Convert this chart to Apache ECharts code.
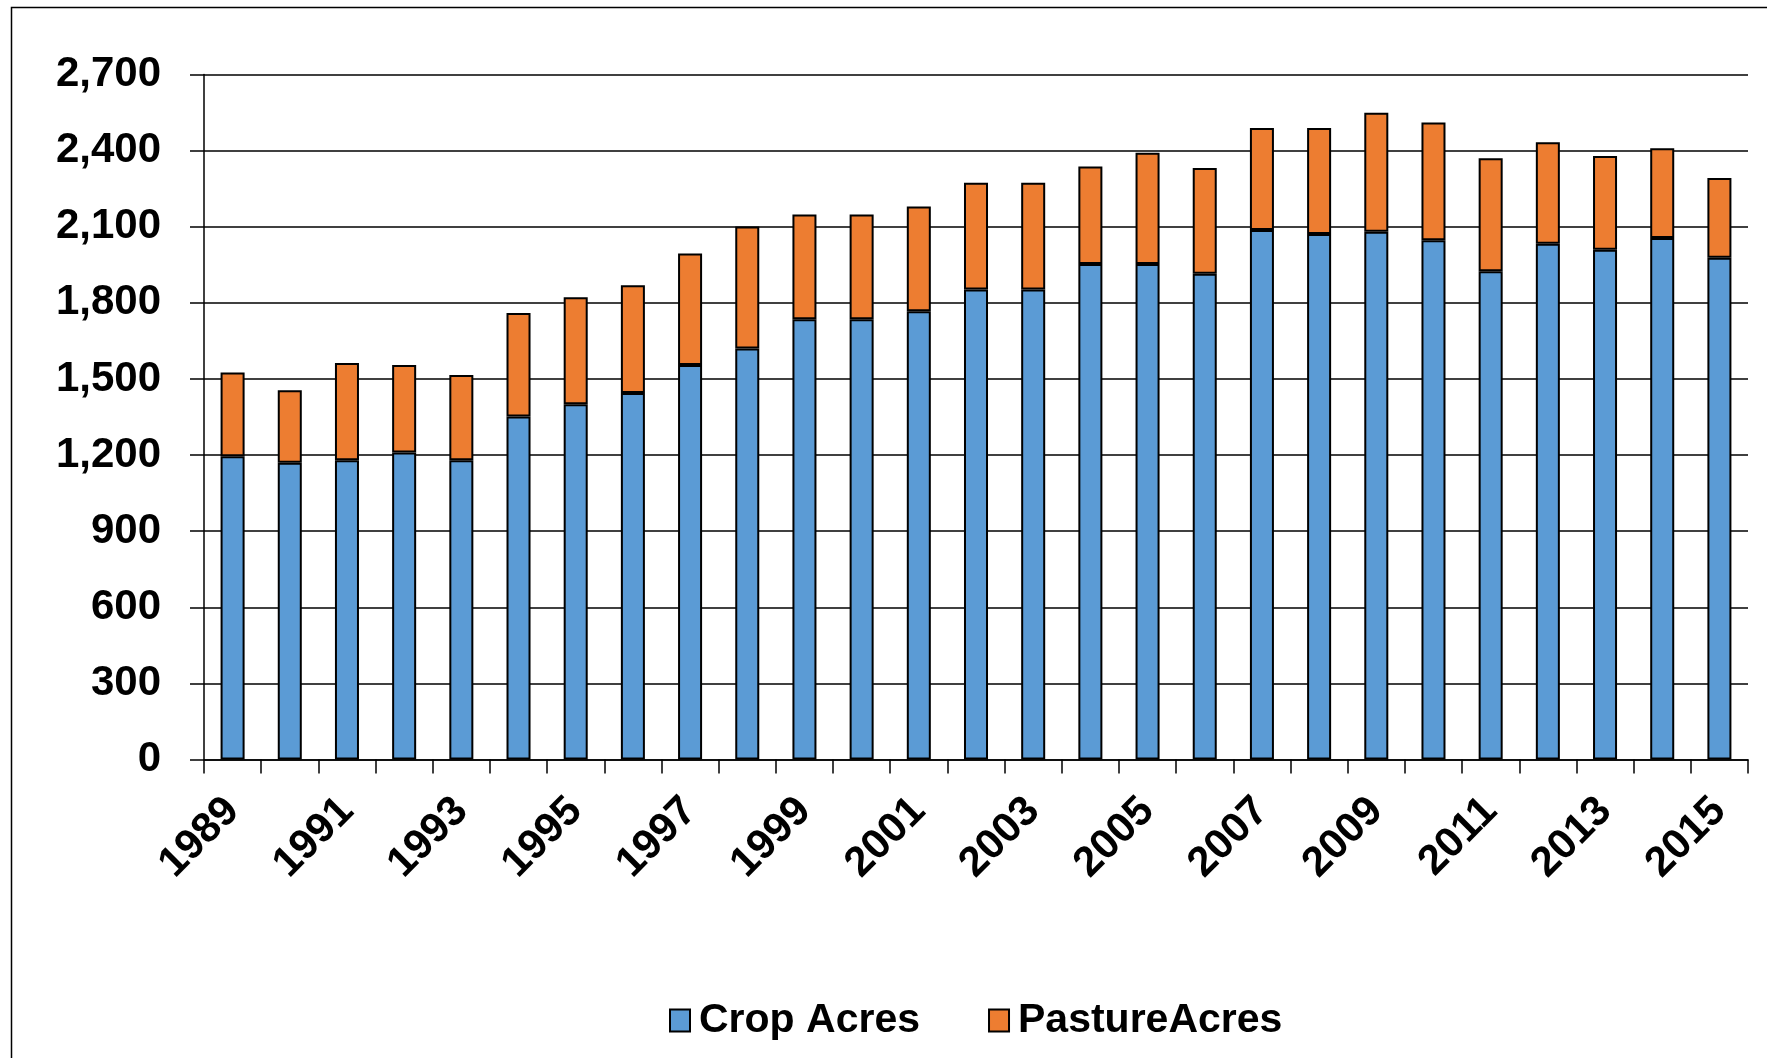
<!DOCTYPE html>
<html>
<head>
<meta charset="utf-8">
<script src="https://cdn.jsdelivr.net/npm/echarts@6/dist/echarts.min.js"></script>
<style>
html,body{margin:0;padding:0;background:#fff;}
#chart{width:1767px;height:1058px;}
</style>
</head>
<body>
<div id="chart"></div>
<script>
const years = ['1989','1990','1991','1992','1993','1994','1995','1996','1997','1998','1999','2000','2001','2002','2003','2004','2005','2006','2007','2008','2009','2010','2011','2012','2013','2014','2015'];
const cropAcres = [1195,1170,1180,1210,1180,1352,1400,1445,1555,1620,1735,1735,1767,1853,1853,1953,1953,1915,2087,2071,2080,2047,1924,2033,2009,2056,1978];
const pastureAcres = [330,285,383,345,336,408,422,424,439,481,413,413,413,420,420,384,439,416,402,418,469,464,446,400,370,353,314];
const yTicks = {min: 0, max: 2700, interval: 300};

const FONT = '"Liberation Sans", Arial, sans-serif';
const chart = echarts.init(document.getElementById('chart'), null, {renderer: 'canvas'});
chart.setOption({
  animation: false,
  backgroundColor: '#ffffff',
  graphic: [{
    type: 'rect', left: 9, top: 5, silent: true,
    shape: {width: 1800, height: 1100},
    style: {fill: 'none', stroke: '#000', lineWidth: 1.5}
  }],
  grid: {left: 204, right: 19, top: 74.5, bottom: 298.5, containLabel: false},
  legend: {
    bottom: 12, left: 664,
    icon: 'rect',
    itemWidth: 20, itemHeight: 22, itemGap: 68,
    textStyle: {fontFamily: FONT, fontWeight: 'bold', fontSize: 41, color: '#000', padding: [0, 0, 0, 4]},
    data: ['Crop Acres', 'PastureAcres']
  },
  xAxis: {
    type: 'category',
    data: years,
    axisLine: {lineStyle: {color: '#000', width: 1.5}},
    axisTick: {show: true, alignWithLabel: false, interval: 0, length: 14, lineStyle: {color: '#000', width: 1.5}},
    axisLabel: {interval: 1, rotate: 45, margin: 45, fontFamily: FONT, fontWeight: 'bold', fontSize: 42, color: '#000'}
  },
  yAxis: {
    type: 'value',
    min: yTicks.min, max: yTicks.max, interval: yTicks.interval,
    axisLine: {show: true, lineStyle: {color: '#000', width: 1.5}},
    axisTick: {show: true, length: 14, lineStyle: {color: '#000', width: 1.5}},
    splitLine: {lineStyle: {color: '#000', width: 1.5}},
    axisLabel: {
      margin: 43, fontFamily: FONT, fontWeight: 'bold', fontSize: 42, color: '#000',
      formatter: v => v.toLocaleString('en-US')
    }
  },
  series: [
    {
      name: 'Crop Acres', type: 'bar', stack: 'total', data: cropAcres,
      barWidth: '42%',
      itemStyle: {color: '#5B9BD5', borderColor: '#000', borderWidth: 2}
    },
    {
      name: 'PastureAcres', type: 'bar', stack: 'total', data: pastureAcres,
      barWidth: '42%',
      itemStyle: {color: '#ED7D31', borderColor: '#000', borderWidth: 2}
    }
  ]
});
</script>
</body>
</html>
